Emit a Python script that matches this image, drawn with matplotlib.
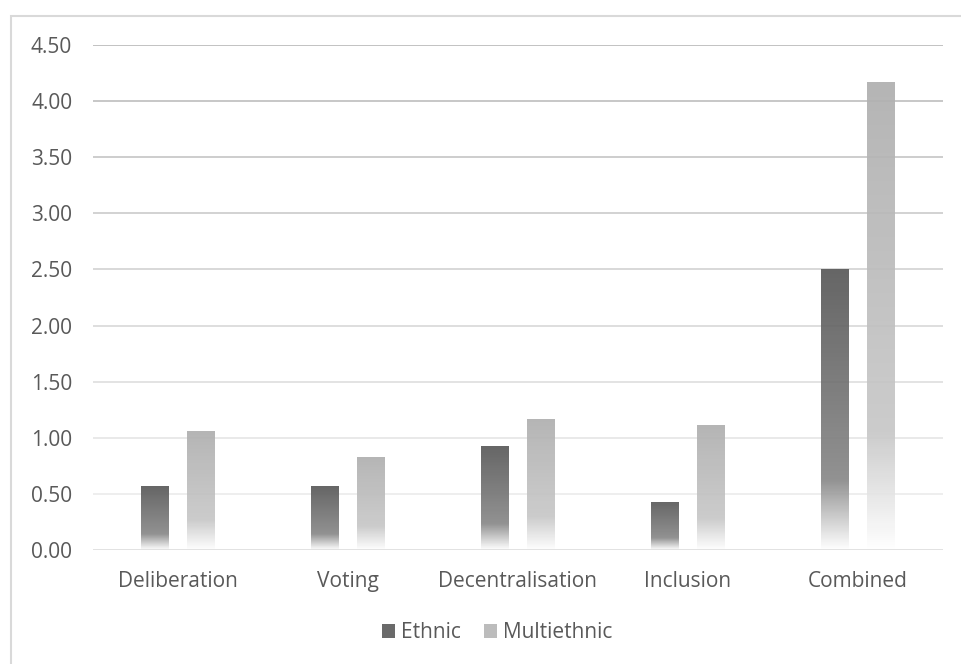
import numpy as np
import matplotlib
matplotlib.use("Agg")
from matplotlib import pyplot as plt
from matplotlib.patches import Rectangle, Patch
from matplotlib.colors import to_rgb

# data
categories = ["Deliberation", "Voting", "Decentralisation", "Inclusion", "Combined"]
ethnic = [0.57, 0.57, 0.93, 0.43, 2.50]
multiethnic = [1.06, 0.83, 1.17, 1.11, 4.17]
yticks = [0.0, 0.5, 1.0, 1.5, 2.0, 2.5, 3.0, 3.5, 4.0, 4.5]

plt.rcParams['font.family'] = ['Open Sans', 'DejaVu Sans']
txt = '#595959'

fig = plt.figure(figsize=(9.62, 6.64), dpi=100)
ax = fig.add_axes([93/962, 1-550/664, 850/962, 505/664])

def grad_bar(ax, x, h, w, top, mid):
    # vertical gradient: top colour -> mid colour at 75% -> white at bottom
    n = 200
    t = np.linspace(0, 1, n)  # row 0 = bottom of bar
    top = np.array(to_rgb(top)); mid = np.array(to_rgb(mid)); white = np.ones(3)
    cols = np.zeros((n, 1, 3))
    for i, f in enumerate(t):
        d = 1 - f  # distance from top
        if d < 0.75:
            c = top + (mid - top) * d / 0.75
        else:
            c = mid + (white - mid) * (d - 0.75) / 0.25
        cols[i, 0] = c
    im = ax.imshow(cols, extent=[x - w/2, x + w/2, 0, h], origin='lower',
                   aspect='auto', zorder=3, alpha=0.92, interpolation='bilinear')
    r = Rectangle((x - w/2, 0), w, h, transform=ax.transData, facecolor='none', edgecolor='none')
    ax.add_patch(r)
    im.set_clip_path(r)

xs = np.arange(len(categories))
w = 0.16
off = 0.135
for i in range(len(categories)):
    grad_bar(ax, xs[i] - off, ethnic[i], w, '#585858', '#888888')
    grad_bar(ax, xs[i] + off, multiethnic[i], w, '#afafaf', '#c8c8c8')

# gridlines get lighter toward the bottom
for v in yticks[1:]:
    g = 0.93 - (v - 0.5) / 4.0 * (0.93 - 0.74)
    ax.axhline(v, color=(g, g, g), lw=1.3, zorder=1)
ax.axhline(0, color='#d9d9d9', lw=1.8, zorder=4)

ax.set_xlim(-0.5, 4.5)
ax.set_ylim(0, 4.5)
ax.set_yticks(yticks)
ax.set_yticklabels(["%.2f" % v for v in yticks])
ax.set_xticks(xs)
ax.set_xticklabels(categories)
ax.tick_params(axis='both', length=0, labelsize=15, colors=txt)
ax.tick_params(axis='y', pad=15)
ax.tick_params(axis='x', pad=15)
for s in ax.spines.values():
    s.set_visible(False)

handles = [Patch(facecolor='#6a6a6a', edgecolor='none'), Patch(facecolor='#bcbcbc', edgecolor='none')]
leg = fig.legend(handles, ["Ethnic", "Multiethnic"], loc='center', bbox_to_anchor=(497/962, 1-633/664),
                 ncol=2, frameon=False, fontsize=15, handlelength=0.62, handleheight=0.62,
                 handletextpad=0.3, columnspacing=1.1)
for t in leg.get_texts():
    t.set_color(txt)

# chart frame
fig.add_artist(Rectangle((11/962, -0.1), 1.2, 1 - 16/664 + 0.1, transform=fig.transFigure,
                         facecolor='none', edgecolor='#d9d9d9', lw=1.5))

fig.savefig("out.png", dpi=100)
